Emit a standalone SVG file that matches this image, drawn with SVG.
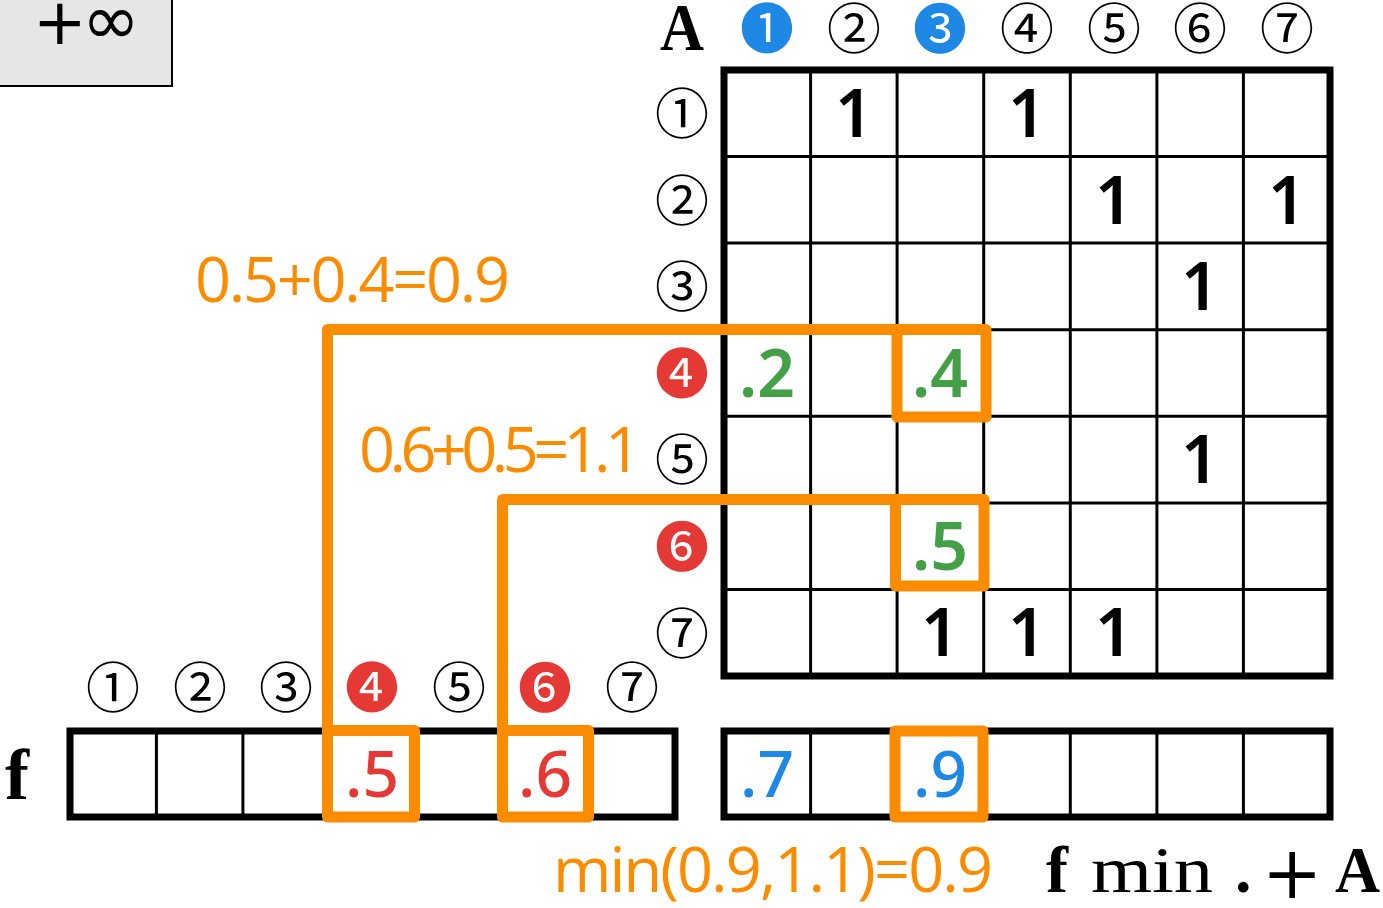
<svg xmlns="http://www.w3.org/2000/svg" width="1383" height="908" viewBox="0 0 1383 908">
<style>
.cd{font-family:"Noto Sans CJK JP","Noto Sans",sans-serif;font-size:54px;text-anchor:middle}
.blk{fill:#000}
.blu{fill:#1e88e5}
.red{fill:#e53935}
.grn{fill:#43a047}
.num{font-family:"Noto Sans","Open Sans",sans-serif;font-size:66px;font-weight:600;text-anchor:middle}
.vnum{font-family:"Noto Sans","Open Sans",sans-serif;font-size:64px;font-weight:500;text-anchor:middle}
.outer{fill:#fff;stroke:#000;stroke-width:7}
.inner{stroke:#000;stroke-width:3}
.org{fill:none;stroke:#fb8c00;stroke-width:11;stroke-linejoin:round}
.otxt{font-family:"Open Sans","Noto Sans",sans-serif;font-size:63px;font-weight:500;fill:#fb8c00}
.ser{font-family:"Liberation Serif","Times New Roman",serif;fill:#000}
</style>

<g id="infbox">
<rect x="-4" y="-4" width="176" height="90" fill="#e6e6e6" stroke="#000" stroke-width="2"/>
<text x="33" y="44" font-family="DejaVu Sans,sans-serif" font-size="64">+<tspan dx="-5" font-size="70">∞</tspan></text>
</g>

<g id="labelA"><text class="ser" x="660" y="50" font-size="68" font-weight="bold" textLength="44" lengthAdjust="spacingAndGlyphs">A</text></g>
<g id="labelf"><text class="ser" x="5" y="799" font-size="72" font-weight="bold">f</text></g>

<g id="colheaders">
<text class="cd blu" x="767" y="49">❶</text>
<text class="cd blk" x="854" y="49">②</text>
<text class="cd blu" x="940" y="49">❸</text>
<text class="cd blk" x="1027" y="49">④</text>
<text class="cd blk" x="1114" y="49">⑤</text>
<text class="cd blk" x="1200" y="49">⑥</text>
<text class="cd blk" x="1287" y="49">⑦</text>
</g>

<g id="rowheaders">
<text class="cd blk" x="682" y="134">①</text>
<text class="cd blk" x="682" y="221">②</text>
<text class="cd blk" x="682" y="307">③</text>
<text class="cd red" x="682" y="394">❹</text>
<text class="cd blk" x="682" y="480">⑤</text>
<text class="cd red" x="682" y="567">❻</text>
<text class="cd blk" x="682" y="654">⑦</text>
</g>

<g id="fheaders">
<text class="cd blk" x="113" y="708">①</text>
<text class="cd blk" x="200" y="708">②</text>
<text class="cd blk" x="286" y="708">③</text>
<text class="cd red" x="372" y="708">❹</text>
<text class="cd blk" x="459" y="708">⑤</text>
<text class="cd red" x="545" y="708">❻</text>
<text class="cd blk" x="632" y="708">⑦</text>
</g>

<g id="matrix">
<rect class="outer" x="724" y="70" width="606" height="606"/>
<path class="inner" d="M810.6,70V676M897.1,70V676M983.7,70V676M1070.3,70V676M1156.9,70V676M1243.4,70V676M724,156.6H1330M724,243.1H1330M724,329.7H1330M724,416.3H1330M724,502.9H1330M724,589.4H1330"/>
<text class="num blk" x="854" y="137">1</text>
<text class="num blk" x="1027" y="137">1</text>
<text class="num blk" x="1114" y="224">1</text>
<text class="num blk" x="1287" y="224">1</text>
<text class="num blk" x="1200" y="310">1</text>
<text class="num grn" x="767" y="397">.2</text>
<text class="num grn" x="940" y="397">.4</text>
<text class="num blk" x="1200" y="483">1</text>
<text class="num grn" x="940" y="570">.5</text>
<text class="num blk" x="940" y="656">1</text>
<text class="num blk" x="1027" y="656">1</text>
<text class="num blk" x="1114" y="656">1</text>
</g>

<g id="fvector">
<rect class="outer" x="70" y="731" width="605" height="86"/>
<path class="inner" d="M156.4,731V817M242.9,731V817M329.3,731V817M415.7,731V817M502.1,731V817M588.6,731V817"/>
<text class="vnum red" x="372" y="797">.5</text>
<text class="vnum red" x="545" y="797">.6</text>
</g>

<g id="result">
<rect class="outer" x="724" y="731" width="606" height="86"/>
<path class="inner" d="M810.6,731V817M897.1,731V817M983.7,731V817M1070.3,731V817M1156.9,731V817M1243.4,731V817"/>
<text class="vnum blu" x="767" y="797">.7</text>
<text class="vnum blu" x="940" y="797">.9</text>
</g>

<g id="connectors">
<path class="org" d="M327.5,730.5V329.5H986"/>
<rect class="org" x="897" y="329.5" width="89" height="87.5"/>
<rect class="org" x="327.5" y="730.5" width="87" height="86.5"/>
<path class="org" d="M502.5,730.5V499.5H984"/>
<rect class="org" x="895.5" y="499.5" width="88.5" height="86.5"/>
<rect class="org" x="502.5" y="730.5" width="86" height="86.5"/>
<rect class="org" x="895" y="731" width="88" height="86"/>
</g>

<g id="labels">
<text class="otxt" x="195" y="302" textLength="315" lengthAdjust="spacing">0.5+0.4=0.9</text>
<text class="otxt" x="359" y="472" textLength="282" lengthAdjust="spacing">0.6+0.5=1.1</text>
<text class="otxt" x="553" y="892" font-size="65" textLength="440" lengthAdjust="spacing">min(0.9,1.1)=0.9</text>
</g>

<g id="formula">
<text class="ser" y="892" font-size="66"><tspan x="1046" font-weight="bold">f</tspan><tspan x="1091" textLength="122" lengthAdjust="spacingAndGlyphs">min</tspan><tspan x="1235" font-weight="bold">.</tspan></text>
<text x="1262" y="898" font-family="DejaVu Serif,serif" font-size="72">+</text>
<text class="ser" x="1335" y="892" font-size="66" font-weight="bold" textLength="45" lengthAdjust="spacingAndGlyphs">A</text>
</g>
</svg>
